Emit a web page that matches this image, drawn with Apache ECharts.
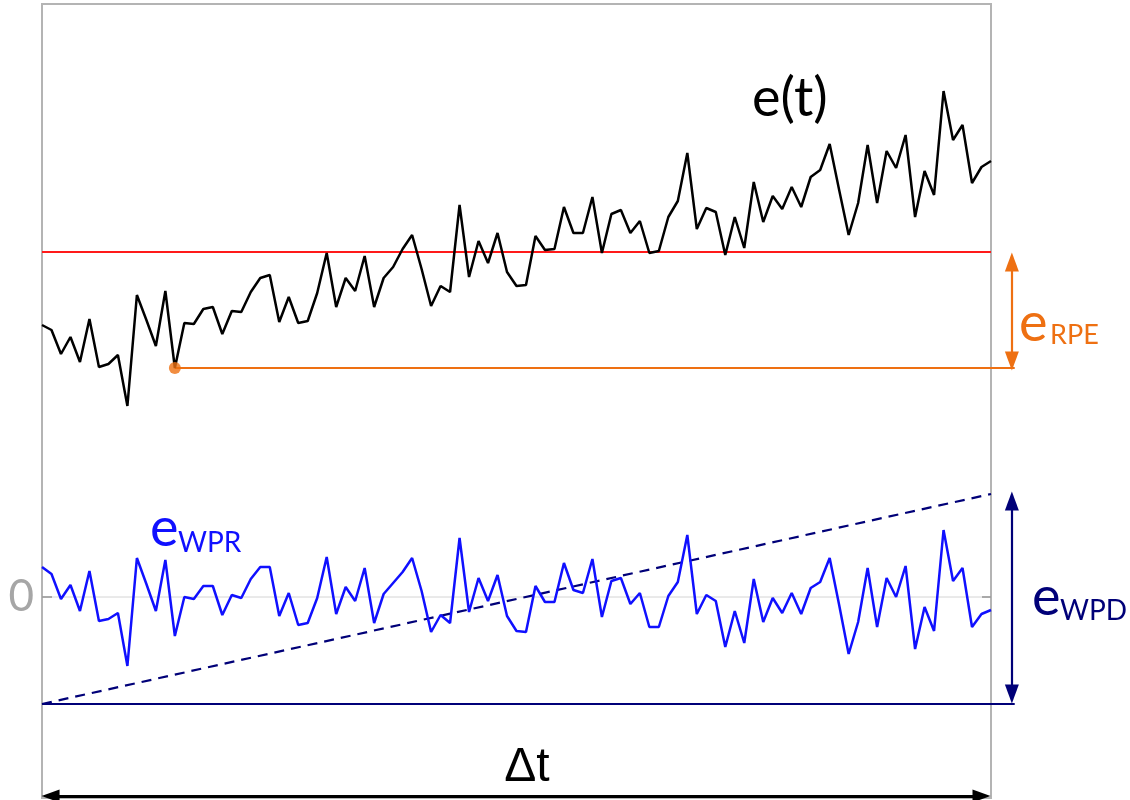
<!DOCTYPE html>
<html>
<head>
<meta charset="utf-8">
<script src="https://cdn.jsdelivr.net/npm/echarts@6/dist/echarts.min.js"></script>
<style>
html,body{margin:0;padding:0;background:#fff;}
#chart{width:1130px;height:800px;}
</style>
</head>
<body>
<div id="chart"></div>
<script>
// ---- data ----
const eValues = [27.2,26.7,24.3,26.0,23.5,27.8,23.0,23.3,24.2,19.1,
  30.2,27.7,25.1,30.6,22.9,27.4,27.3,28.8,29.0,26.3,
  28.6,28.5,30.5,31.9,32.2,27.5,30.0,27.4,27.6,30.4,
  34.4,29.0,31.9,30.6,34.1,29.0,31.9,33.0,34.8,36.2,
  32.8,29.1,31.1,30.5,39.2,32.0,35.6,33.4,36.4,32.5,
  31.1,31.2,36.1,34.7,34.8,39.0,36.4,36.4,40.0,34.4,
  38.3,38.7,36.4,37.6,34.4,34.6,38.0,39.6,44.4,36.8,
  38.9,38.5,34.2,38.0,34.9,41.5,37.5,40.1,38.8,41.0,
  39.0,42.0,42.7,45.3,40.7,36.2,39.4,45.2,39.4,44.6,
  42.9,46.2,38.0,42.6,40.2,50.6,45.7,47.2,41.4,43.0,43.6];
const wprValues = [3.0,2.3,-0.2,1.2,-1.4,2.6,-2.4,-2.2,-1.6,-6.9,
  3.9,1.3,-1.4,3.7,-3.9,0.0,-0.2,1.1,1.1,-1.8,
  0.2,-0.1,1.8,3.0,3.0,-1.9,0.4,-2.8,-2.6,-0.1,
  4.0,-1.7,1.0,-0.4,2.9,-2.6,0.3,1.4,2.5,3.9,
  0.6,-3.5,-1.8,-2.6,5.9,-1.5,1.9,-0.4,2.2,-1.9,
  -3.4,-3.5,1.1,-0.5,-0.5,3.4,0.7,0.4,3.8,-2.0,
  1.6,1.9,-0.7,0.4,-3.0,-3.0,0.1,1.5,6.2,-1.7,
  0.2,-0.4,-5.0,-1.4,-4.6,1.8,-2.5,-0.1,-1.6,0.4,
  -1.7,0.9,1.5,3.9,-0.8,-5.7,-2.5,2.9,-3.0,1.9,
  0.0,3.1,-5.2,-1.0,-3.4,6.7,1.6,2.9,-3.0,-1.7,-1.3];
const timeIndex = eValues.map((_, i) => i);
const yTickValues = [0];
const yTickLabels = ['0'];
const redLevel = 34.5;          // horizontal red reference
const rpeIndex = 14;            // minimum point after which e(t) is tracked
const rpeLevel = 22.9;
const rpeArrowEnds = [33.5, 23.6];
const wpdLevel = -10.7;          // navy base line
const trendEnds = [-10.7, 10.3]; // dashed trend at t=0 and t=100
const wpdArrowEnds = [9.6, -9.7];
const arrowX = 102.2;
const lineEndX = 102.5;
const dtLevel = -19.9;
const dtArrowEnds = [0.9, 99.0];
const xMin = 0, xMax = 100, yMin = -20.1, yMax = 59.3;

const ORANGE = '#ee7012', BLUE = '#1010ff', NAVY = '#000078', RED = '#ff1a1a';

// layout of the frame (pixels)
const W = 1130, H = 800, GL = 42, GR = 139, GT = 4, GB = 2;
// an overlay grid with the same scale, extending to the right edge of the page
const xMaxWide = xMax * (W - GL) / (W - GL - GR);

const chart = echarts.init(document.getElementById('chart'), null, {renderer: 'canvas'});

function arrowLine(color, from, to, size, width) {
  return {
    silent: true,
    symbol: ['triangle', 'triangle'],
    symbolSize: size,
    label: {show: false},
    emphasis: {disabled: true},
    lineStyle: {color: color, width: width, type: 'solid'},
    data: [[{coord: from}, {coord: to}]]
  };
}

const hiddenX = {axisLine: {show: false}, axisTick: {show: false},
                 axisLabel: {show: false}, splitLine: {show: false}};

const option = {
  animation: false,
  backgroundColor: '#fff',
  grid: [
    {left: GL, right: GR, top: GT, bottom: GB, show: true,
     borderColor: '#b4b4b4', borderWidth: 2, backgroundColor: 'transparent'},
    {left: GL, right: 0, top: GT, bottom: GB, show: false}
  ],
  xAxis: [
    Object.assign({type: 'value', min: xMin, max: xMax, gridIndex: 0}, hiddenX),
    Object.assign({type: 'value', min: xMin, max: xMaxWide, gridIndex: 1}, hiddenX)
  ],
  yAxis: [
    {type: 'value', min: yMin, max: yMax, position: 'left', gridIndex: 0,
     axisLine: {show: false},
     axisTick: {show: true, inside: true, length: 10, customValues: yTickValues,
                lineStyle: {color: '#555', width: 1.5}},
     axisLabel: {show: true, customValues: yTickValues, margin: 8,
                 formatter: (v) => yTickLabels[yTickValues.indexOf(v)] ?? '',
                 fontFamily: 'Lato', fontSize: 44, color: '#a6a6a6'},
     splitLine: {show: false}},
    {type: 'value', min: yMin, max: yMax, position: 'right', gridIndex: 0,
     axisLine: {show: false},
     axisTick: {show: true, inside: true, length: 9, customValues: yTickValues,
                lineStyle: {color: '#555', width: 1.5}},
     axisLabel: {show: false}, splitLine: {show: false}},
    {type: 'value', min: yMin, max: yMax, gridIndex: 1, show: false}
  ],
  series: [
    { // zero line of the detrended series
      type: 'line', data: [[xMin, 0], [xMax, 0]], showSymbol: false, silent: true,
      lineStyle: {color: '#d4d4d4', width: 1}, z: 1
    },
    { // red reference level
      type: 'line', data: [[xMin, redLevel], [xMax, redLevel]], showSymbol: false, silent: true,
      lineStyle: {color: RED, width: 2}, z: 2
    },
    { // orange level from the minimum point
      type: 'line', xAxisIndex: 1, yAxisIndex: 2,
      data: [[rpeIndex, rpeLevel], [lineEndX, rpeLevel]],
      showSymbol: false, silent: true, lineStyle: {color: ORANGE, width: 2.2}, z: 2,
      markLine: arrowLine(ORANGE, [arrowX, rpeArrowEnds[0]], [arrowX, rpeArrowEnds[1]], [14, 19], 2.2)
    },
    { // e(t)
      type: 'line', data: timeIndex.map(i => [i, eValues[i]]),
      showSymbol: false, silent: true, lineStyle: {color: '#000', width: 2.5}, z: 3,
      markLine: arrowLine('#000', [dtArrowEnds[0], dtLevel], [dtArrowEnds[1], dtLevel], [13, 18], 2.8)
    },
    { // orange marker point
      type: 'scatter', data: [[rpeIndex, rpeLevel]], symbolSize: 12, silent: true,
      itemStyle: {color: ORANGE}, z: 5
    },
    { // navy base line
      type: 'line', xAxisIndex: 1, yAxisIndex: 2,
      data: [[xMin, wpdLevel], [lineEndX, wpdLevel]],
      showSymbol: false, silent: true, lineStyle: {color: NAVY, width: 2.2}, z: 2,
      markLine: arrowLine(NAVY, [arrowX, wpdArrowEnds[0]], [arrowX, wpdArrowEnds[1]], [14, 19], 2.2)
    },
    { // dashed trend
      type: 'line', data: [[xMin, trendEnds[0]], [xMax, trendEnds[1]]],
      showSymbol: false, silent: true,
      lineStyle: {color: NAVY, width: 2.2, type: [10, 7]}, z: 2
    },
    { // detrended e_WPR
      type: 'line', data: timeIndex.map(i => [i, wprValues[i]]),
      showSymbol: false, silent: true, lineStyle: {color: BLUE, width: 2.5}, z: 3
    }
  ],
  graphic: [
    {type: 'text', x: 752, y: 99, z: 10,
     style: {text: 'e(t)', fontFamily: 'Lato', fontSize: 54, fill: '#000',
             align: 'left', verticalAlign: 'middle'}},
    {type: 'text', x: 1019, y: 324, z: 10,
     style: {text: 'e', fontFamily: 'Lato', fontSize: 54, fill: ORANGE,
             align: 'left', verticalAlign: 'middle'}},
    {type: 'text', x: 1050, y: 335, z: 10,
     style: {text: 'RPE', fontFamily: 'Lato', fontSize: 27, fill: ORANGE,
             align: 'left', verticalAlign: 'middle'}},
    {type: 'text', x: 150, y: 529, z: 10,
     style: {text: 'e', fontFamily: 'Lato', fontSize: 54, fill: BLUE,
             align: 'left', verticalAlign: 'middle'}},
    {type: 'text', x: 178, y: 543, z: 10,
     style: {text: 'WPR', fontFamily: 'Lato', fontSize: 28, fill: BLUE,
             align: 'left', verticalAlign: 'middle'}},
    {type: 'text', x: 1032, y: 598, z: 10,
     style: {text: 'e', fontFamily: 'Lato', fontSize: 54, fill: NAVY,
             align: 'left', verticalAlign: 'middle'}},
    {type: 'text', x: 1060, y: 611, z: 10,
     style: {text: 'WPD', fontFamily: 'Lato', fontSize: 28, fill: NAVY,
             align: 'left', verticalAlign: 'middle'}},
    {type: 'text', x: 527, y: 768, z: 10,
     style: {text: 'Δt', fontFamily: 'Liberation Sans', fontSize: 48, fill: '#000',
             align: 'center', verticalAlign: 'middle'}}
  ]
};
chart.setOption(option);
</script>
</body>
</html>
